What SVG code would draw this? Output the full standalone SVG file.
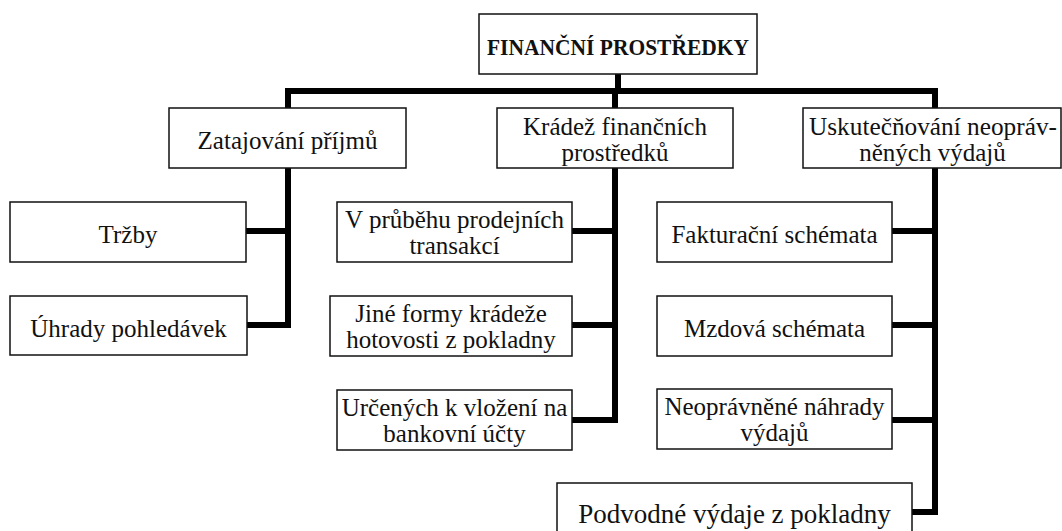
<svg xmlns="http://www.w3.org/2000/svg" width="1062" height="531" viewBox="0 0 1062 531">
  <style>
    .box { fill: #ffffff; stroke: #111111; stroke-width: 1.5; }
    .lbl { font-family: "Liberation Serif", "Times New Roman", serif; font-size: 25px; fill: #111111; text-anchor: middle; }
    .title { font-family: "Liberation Serif", "Times New Roman", serif; font-size: 23.5px; font-weight: bold; fill: #111111; text-anchor: middle; }
    .link { fill: none; stroke: #000000; stroke-width: 6; stroke-linejoin: miter; stroke-linecap: butt; }
  </style>

  <rect width="1062" height="531" fill="#ffffff"/>

  <!-- connectors -->
  <g id="connectors">
    <path class="link" d="M618 74 V91"/>
    <path class="link" d="M288 108 V91 H935 V108"/>
    <path class="link" d="M615 91 V108"/>
    <!-- left branch -->
    <path class="link" d="M288 168 V325 H247"/>
    <path class="link" d="M288 231 H246"/>
    <!-- middle branch -->
    <path class="link" d="M615 168 V420 H572"/>
    <path class="link" d="M615 231 H572"/>
    <path class="link" d="M615 325 H572"/>
    <!-- right branch -->
    <path class="link" d="M935 168 V512 H912"/>
    <path class="link" d="M935 231 H892"/>
    <path class="link" d="M935 325 H892"/>
    <path class="link" d="M935 420 H892"/>
  </g>

  <!-- root -->
  <g id="root">
    <rect class="box" x="479" y="14" width="278" height="60"/>
    <text class="title" x="618" y="55" textLength="262" lengthAdjust="spacingAndGlyphs">FINANČNÍ PROSTŘEDKY</text>
  </g>

  <!-- level 1 -->
  <g id="zatajovani">
    <rect class="box" x="169" y="108" width="237" height="60"/>
    <text class="lbl" x="287.5" y="149">Zatajování příjmů</text>
  </g>
  <g id="kradez">
    <rect class="box" x="497" y="108" width="236" height="60"/>
    <text class="lbl" x="615" y="135">Krádež finančních</text>
    <text class="lbl" x="615" y="161">prostředků</text>
  </g>
  <g id="uskutecnovani">
    <rect class="box" x="803" y="108" width="258" height="60"/>
    <text class="lbl" x="933" y="135" textLength="248" lengthAdjust="spacingAndGlyphs">Uskutečňování neopráv-</text>
    <text class="lbl" x="932.5" y="161">něných výdajů</text>
  </g>

  <!-- left column -->
  <g id="trzby">
    <rect class="box" x="10" y="202" width="236" height="60"/>
    <text class="lbl" x="128" y="243">Tržby</text>
  </g>
  <g id="uhrady">
    <rect class="box" x="10" y="296" width="237" height="59"/>
    <text class="lbl" x="128.5" y="337">Úhrady pohledávek</text>
  </g>

  <!-- middle column -->
  <g id="prubeh">
    <rect class="box" x="337" y="202" width="235" height="60"/>
    <text class="lbl" x="454.5" y="228">V průběhu prodejních</text>
    <text class="lbl" x="454.5" y="254">transakcí</text>
  </g>
  <g id="jine-formy">
    <rect class="box" x="330" y="296" width="242" height="60"/>
    <text class="lbl" x="451" y="322">Jiné formy krádeže</text>
    <text class="lbl" x="451" y="348">hotovosti z pokladny</text>
  </g>
  <g id="urcenych">
    <rect class="box" x="337" y="390" width="235" height="60"/>
    <text class="lbl" x="454.5" y="416">Určených k vložení na</text>
    <text class="lbl" x="454.5" y="442">bankovní účty</text>
  </g>

  <!-- right column -->
  <g id="fakturacni">
    <rect class="box" x="657" y="202" width="235" height="60"/>
    <text class="lbl" x="774.5" y="243">Fakturační schémata</text>
  </g>
  <g id="mzdova">
    <rect class="box" x="657" y="296" width="235" height="60"/>
    <text class="lbl" x="774.5" y="337">Mzdová schémata</text>
  </g>
  <g id="nahrady">
    <rect class="box" x="657" y="389" width="235" height="60"/>
    <text class="lbl" x="774.5" y="415">Neoprávněné náhrady</text>
    <text class="lbl" x="774.5" y="441">výdajů</text>
  </g>
  <g id="podvodne">
    <rect class="box" x="557" y="483" width="355" height="60"/>
    <text class="lbl" x="734.5" y="523" style="font-size:27px">Podvodné výdaje z pokladny</text>
  </g>
</svg>
